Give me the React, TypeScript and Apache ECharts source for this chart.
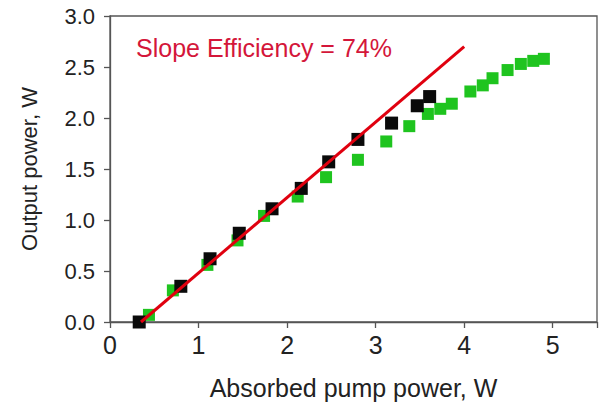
import React, { useEffect, useRef } from "react";
import * as echarts from "echarts";

const blackX = [0.33, 0.8, 1.13, 1.46, 1.83, 2.16, 2.47, 2.8, 3.18, 3.47, 3.61];
const blackY = [0.0, 0.35, 0.62, 0.87, 1.11, 1.31, 1.57, 1.79, 1.95, 2.12, 2.21];
const greenX = [0.44, 0.71, 1.1, 1.44, 1.74, 2.12, 2.44, 2.8, 3.12, 3.38, 3.59, 3.73, 3.86, 4.07, 4.21, 4.32, 4.49, 4.64, 4.78, 4.9];
const greenY = [0.07, 0.31, 0.56, 0.8, 1.04, 1.23, 1.42, 1.59, 1.77, 1.92, 2.04, 2.09, 2.14, 2.26, 2.32, 2.39, 2.47, 2.53, 2.56, 2.58];
const fitX = [0.35, 4.0];
const fitY = [0.0, 2.7];
const annotation = "Slope Efficiency = 74%";

const zip = (xs: number[], ys: number[]) => xs.map((x, i) => [x, ys[i]]);

export default function App() {
  const ref = useRef<HTMLDivElement>(null);
  useEffect(() => {
    if (!ref.current) return;
    const chart = echarts.init(ref.current, null, { renderer: "svg" });
    const font = "Liberation Sans, Arial, sans-serif";
    const axisCommon = {
      axisLine: { show: true, lineStyle: { color: "#555", width: 1.3 } },
      axisTick: { show: true, inside: false, length: 6, lineStyle: { color: "#555", width: 1.3 } },
      splitLine: { show: false },
      nameLocation: "middle" as const,
    };
    chart.setOption({
      animation: false,
      backgroundColor: "#fff",
      textStyle: { fontFamily: font },
      title: {
        text: annotation,
        left: 131,
        top: 30,
        textStyle: { color: "#d4163a", fontSize: 25, fontWeight: "normal", fontFamily: font },
      },
      grid: { left: 110, right: 3, top: 16, bottom: 85, show: true, borderColor: "#555", borderWidth: 1.3 },
      xAxis: {
        type: "value",
        min: 0,
        max: 5.5,
        interval: 1,
        ...axisCommon,
        name: "Absorbed pump power, W",
        nameGap: 53,
        nameTextStyle: { fontSize: 25, color: "#222", fontFamily: font },
        axisLabel: {
          margin: 10,
          fontSize: 25,
          color: "#222",
          fontFamily: font,
          formatter: (v: number) => (v > 5 ? "" : String(v)),
        },
      },
      yAxis: {
        type: "value",
        min: 0,
        max: 3,
        interval: 0.5,
        ...axisCommon,
        name: "Output power, W",
        nameGap: 70,
        nameTextStyle: { fontSize: 22, color: "#222", fontFamily: font },
        axisLabel: {
          margin: 15,
          fontSize: 22,
          color: "#222",
          fontFamily: font,
          formatter: (v: number) => v.toFixed(1),
        },
      },
      series: [
        {
          type: "scatter",
          symbol: "rect",
          symbolSize: 12,
          itemStyle: { color: "#1fc41f", opacity: 1 },
          data: zip(greenX, greenY),
          z: 2,
        },
        {
          type: "scatter",
          symbol: "rect",
          symbolSize: 13,
          itemStyle: { color: "#0a0a0a", opacity: 1 },
          data: zip(blackX, blackY),
          z: 3,
        },
        {
          type: "line",
          symbol: "none",
          lineStyle: { color: "#e0000f", width: 3 },
          data: zip(fitX, fitY),
          z: 4,
        },
      ],
    });
    return () => chart.dispose();
  }, []);
  return <div ref={ref} style={{ width: 600, height: 407, position: "absolute", left: 0, top: 0 }} />;
}
